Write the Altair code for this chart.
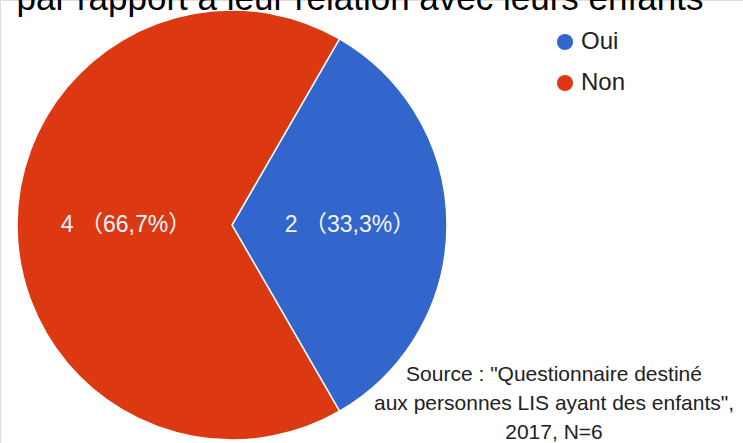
import altair as alt
import pandas as pd

categories = ["Oui", "Non"]
counts = [2, 4]
colors = ["#3366cc", "#dc3912"]
title_text = "par rapport à leur relation avec leurs enfants"
source_lines = ["Source : \"Questionnaire destiné",
                "aux personnes LIS ayant des enfants\",",
                "2017, N=6"]

df = pd.DataFrame({"cat": categories, "count": counts, "order": list(range(len(categories)))})

FONT = "Liberation Sans, Arial, 'Noto Sans CJK JP', sans-serif"
CX, CY, R = 232, 225, 215
start = 3.14159265 / 6

base = alt.Chart(df).transform_joinaggregate(
    total="sum(count)"
).transform_calculate(
    pct="datum.count / datum.total * 100",
    label="datum.count + ' （' + replace(format(datum.pct, '.1f'), '.', ',') + '%）'"
)

theta = alt.Theta("count:Q", stack=True, scale=alt.Scale(range=[start, start + 2 * 3.14159265]))
color = alt.Color(
    "cat:N",
    scale=alt.Scale(domain=categories, range=colors),
    sort=categories,
    legend=alt.Legend(
        title=None, orient="none", legendX=553, legendY=30,
        symbolType="circle", symbolSize=260, symbolStrokeWidth=0,
        labelFont=FONT, labelFontSize=24, labelColor="#222222",
        rowPadding=17, labelOffset=4, symbolOffset=0,
    ),
)

pie = base.mark_arc(outerRadius=R, stroke="white", strokeWidth=1.5).encode(
    theta=theta, color=color, order=alt.Order("order:Q"),
    x=alt.value(CX), y=alt.value(CY),
)

labels = base.mark_text(radius=112, dx=6, font=FONT, fontSize=23, color="#f4f6ff", align="center", baseline="middle").encode(
    theta=theta, text="label:N", order=alt.Order("order:Q"),
    x=alt.value(CX), y=alt.value(CY),
)

title = alt.Chart(pd.DataFrame({"t": [title_text]})).mark_text(
    font=FONT, fontSize=35, color="#000000", align="center", baseline="alphabetic"
).encode(text="t:N", x=alt.value(360), y=alt.value(10))

source = alt.Chart(pd.DataFrame({"t": [source_lines]})).mark_text(
    font=FONT, fontSize=21, color="#222222", align="center", baseline="alphabetic", lineHeight=29
).encode(text="t", x=alt.value(554), y=alt.value(381))

chart = alt.layer(pie, labels, title, source).properties(
    width=743, height=443, padding=0,
    autosize=alt.AutoSizeParams(type="none"),
).configure_view(stroke=None).configure(background="white")

chart.save("out.html", embed_options={"renderer": "svg", "actions": False})
